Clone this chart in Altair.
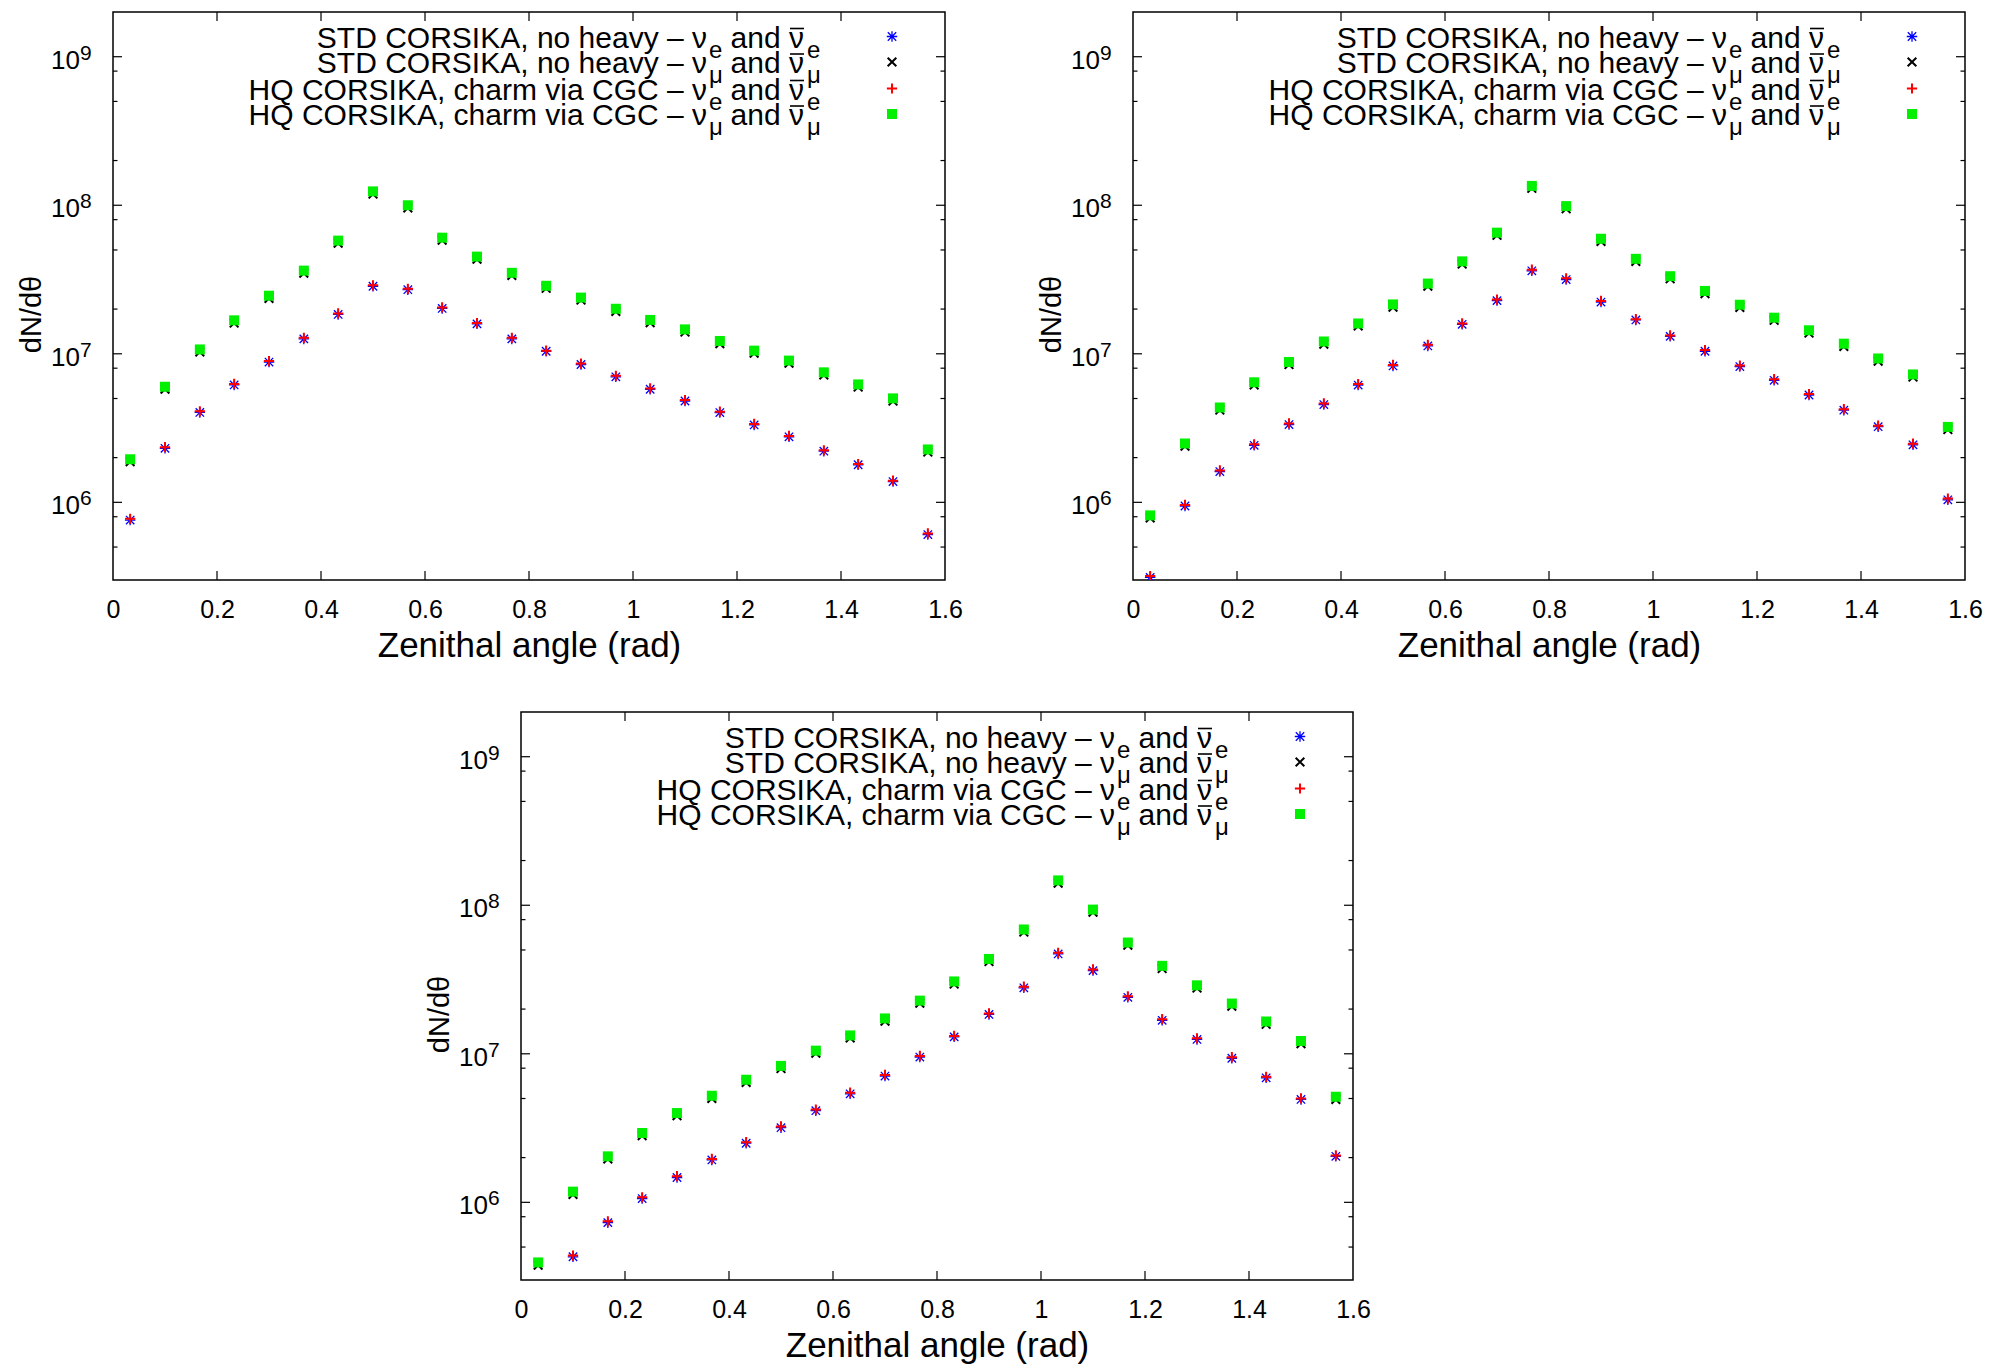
import altair as alt
import pandas as pd

FONT = "Liberation Sans"

# ---------------- data ----------------
theta = [0.033, 0.1, 0.167, 0.233, 0.3, 0.367, 0.433, 0.5, 0.567, 0.633, 0.7, 0.767,
         0.833, 0.9, 0.967, 1.033, 1.1, 1.167, 1.233, 1.3, 1.367, 1.433, 1.5, 1.567]

# panel 1 (top left)
p1_std_nue = [7.6e5, 2.31e6, 4.03e6, 6.17e6, 8.80e6, 1.26e7, 1.84e7, 2.85e7, 2.70e7, 2.02e7, 1.59e7, 1.26e7,
              1.04e7, 8.47e6, 7.0e6, 5.77e6, 4.81e6, 4.02e6, 3.32e6, 2.76e6, 2.21e6, 1.79e6, 1.38e6, 6.07e5]
p1_std_numu = [1.88e6, 5.78e6, 1.03e7, 1.61e7, 2.36e7, 3.49e7, 5.55e7, 1.19e8, 0.96e8, 5.82e7, 4.33e7, 3.37e7,
               2.76e7, 2.30e7, 1.93e7, 1.62e7, 1.40e7, 1.17e7, 1.01e7, 8.65e6, 7.2e6, 5.97e6, 4.81e6, 2.18e6]
p1_hq_nue = [7.74e5, 2.35e6, 4.10e6, 6.27e6, 8.93e6, 1.28e7, 1.87e7, 2.89e7, 2.74e7, 2.05e7, 1.61e7, 1.28e7,
             1.05e7, 8.59e6, 7.11e6, 5.85e6, 4.88e6, 4.08e6, 3.37e6, 2.80e6, 2.24e6, 1.81e6, 1.40e6, 6.17e5]
p1_hq_numu = [1.95e6, 6.0e6, 1.07e7, 1.68e7, 2.46e7, 3.63e7, 5.78e7, 1.24e8, 1.0e8, 6.05e7, 4.51e7, 3.51e7,
              2.87e7, 2.39e7, 2.01e7, 1.69e7, 1.46e7, 1.22e7, 1.05e7, 9.0e6, 7.5e6, 6.22e6, 5.01e6, 2.27e6]

# panel 2 (top right)
p2_std_nue = [3.12e5, 9.45e5, 1.61e6, 2.42e6, 3.34e6, 4.55e6, 6.16e6, 8.28e6, 1.13e7, 1.58e7, 2.28e7, 3.62e7,
              3.16e7, 2.23e7, 1.69e7, 1.31e7, 1.04e7, 8.2e6, 6.63e6, 5.28e6, 4.17e6, 3.23e6, 2.44e6, 1.04e6]
p2_std_numu = [7.85e5, 2.39e6, 4.18e6, 6.17e6, 8.46e6, 1.16e7, 1.54e7, 2.06e7, 2.85e7, 4.02e7, 6.28e7, 1.30e8,
               9.47e7, 5.71e7, 4.19e7, 3.20e7, 2.54e7, 2.05e7, 1.68e7, 1.38e7, 1.12e7, 8.93e6, 6.97e6, 3.09e6]
p2_hq_nue = [3.19e5, 9.6e5, 1.64e6, 2.46e6, 3.40e6, 4.63e6, 6.26e6, 8.42e6, 1.15e7, 1.60e7, 2.32e7, 3.68e7,
             3.22e7, 2.27e7, 1.71e7, 1.33e7, 1.06e7, 8.34e6, 6.74e6, 5.36e6, 4.24e6, 3.28e6, 2.48e6, 1.06e6]
p2_hq_numu = [8.17e5, 2.49e6, 4.35e6, 6.43e6, 8.81e6, 1.21e7, 1.60e7, 2.15e7, 2.97e7, 4.19e7, 6.54e7, 1.35e8,
              9.87e7, 5.95e7, 4.36e7, 3.33e7, 2.65e7, 2.14e7, 1.75e7, 1.44e7, 1.17e7, 9.3e6, 7.26e6, 3.22e6]

# panel 3 (bottom)
p3_std_nue = [1.42e5, 4.3e5, 7.3e5, 1.06e6, 1.47e6, 1.93e6, 2.5e6, 3.18e6, 4.14e6, 5.38e6, 7.08e6, 9.5e6,
              1.30e7, 1.84e7, 2.78e7, 4.7e7, 3.63e7, 2.4e7, 1.68e7, 1.25e7, 9.33e6, 6.89e6, 4.93e6, 2.04e6]
p3_std_numu = [3.78e5, 1.13e6, 1.96e6, 2.81e6, 3.83e6, 5.01e6, 6.42e6, 7.96e6, 1.01e7, 1.28e7, 1.66e7, 2.19e7,
               2.95e7, 4.18e7, 6.60e7, 1.41e8, 8.98e7, 5.39e7, 3.75e7, 2.77e7, 2.09e7, 1.58e7, 1.17e7, 4.93e6]
p3_hq_nue = [1.45e5, 4.38e5, 7.45e5, 1.08e6, 1.50e6, 1.96e6, 2.54e6, 3.24e6, 4.21e6, 5.47e6, 7.20e6, 9.67e6,
             1.32e7, 1.87e7, 2.83e7, 4.78e7, 3.70e7, 2.44e7, 1.71e7, 1.27e7, 9.48e6, 7.0e6, 5.01e6, 2.07e6]
p3_hq_numu = [3.94e5, 1.18e6, 2.04e6, 2.93e6, 3.99e6, 5.22e6, 6.69e6, 8.29e6, 1.05e7, 1.33e7, 1.73e7, 2.28e7,
              3.07e7, 4.35e7, 6.87e7, 1.47e8, 9.35e7, 5.61e7, 3.91e7, 2.89e7, 2.18e7, 1.65e7, 1.22e7, 5.14e6]

series_keys = ["std_nue", "std_numu", "hq_nue", "hq_numu"]
legend_main = ["STD CORSIKA, no heavy – ν", "STD CORSIKA, no heavy – ν",
               "HQ CORSIKA, charm via CGC – ν", "HQ CORSIKA, charm via CGC – ν"]
legend_sub = ["e", "μ", "e", "μ"]
legend_mid = ["and ν", "and ν", "and ν", "and ν"]

x_ticks = [0, 0.2, 0.4, 0.6, 0.8, 1, 1.2, 1.4, 1.6]
x_inner_ticks = [0.2, 0.4, 0.6, 0.8, 1, 1.2, 1.4]
y_major = [1e6, 1e7, 1e8, 1e9]
y_label_base = ["10", "10", "10", "10"]
y_label_exp = ["6", "7", "8", "9"]
y_minor = [5e5, 8e5, 2e6, 5e6, 8e6, 2e7, 5e7, 8e7, 2e8, 5e8, 8e8]

panels = {
    "p1": [p1_std_nue, p1_std_numu, p1_hq_nue, p1_hq_numu],
    "p2": [p2_std_nue, p2_std_numu, p2_hq_nue, p2_hq_numu],
    "p3": [p3_std_nue, p3_std_numu, p3_hq_nue, p3_hq_numu],
}

rows = []
for pk, lists in panels.items():
    for sk, vals in zip(series_keys, lists):
        for t, v in zip(theta, vals):
            rows.append({"panel": pk, "series": sk, "theta": t, "val": v})
df = pd.DataFrame(rows)

legend_df = pd.DataFrame({"row": [0, 1, 2, 3], "series": series_keys, "main": legend_main,
                          "sub": legend_sub, "mid": legend_mid})
ymaj_df = pd.DataFrame({"v": y_major, "base": y_label_base, "exp": y_label_exp})
ymin_df = pd.DataFrame({"v": y_minor})
xt_df = pd.DataFrame({"v": x_inner_ticks})

# ---------------- styling ----------------
W, H = 832, 568
ASTER = "M-1,0L1,0M0,-1L0,1M-0.8,-0.8L0.8,0.8M-0.8,0.8L0.8,-0.8"
XCROSS = "M-1,-1L1,1M-1,1L1,-1"
PLUS = "M-1,0L1,0M0,-1L0,1"
styles = {
    "std_nue": dict(shape=ASTER, filled=False, color="#0000ff", size=110, strokeWidth=1.3),
    "std_numu": dict(shape=XCROSS, filled=False, color="#000000", size=75, strokeWidth=2),
    "hq_nue": dict(shape=PLUS, filled=False, color="#ff0000", size=105, strokeWidth=2),
    "hq_numu": dict(shape="square", filled=True, color="#00f000", size=100, strokeWidth=0),
}

xscale = alt.Scale(domain=[0, 1.6], nice=False, zero=False)
yscale = alt.Scale(type="log", domain=[3e5, 2e9], nice=False)

xaxis = alt.Axis(values=x_ticks, format="~g", title="Zenithal angle (rad)", ticks=False, tickSize=0,
                 domain=False, grid=False, labelFontSize=25, labelPadding=17, labelFlush=False,
                 titleFontSize=35, titleX=416, titleY=48, titleAlign="center", titleBaseline="top")
yaxis = alt.Axis(values=y_major, labels=False, title="dN/dθ", ticks=False, tickSize=0,
                 domain=False, grid=False,
                 titleFontSize=29, titleAngle=270, titleX=-73, titleY=302,
                 titleAlign="center", titleBaseline="alphabetic")


def X(field):
    return alt.X(f"{field}:Q", scale=xscale, axis=xaxis)


def Y(field):
    return alt.Y(f"{field}:Q", scale=yscale, axis=yaxis)


LEG_BASE = [35.5, 61, 87.5, 113]


def panel(pk):
    layers = []
    base = alt.Chart(df).transform_filter(alt.datum.panel == pk)
    for sk in series_keys:
        st = styles[sk]
        layers.append(
            base.transform_filter(alt.datum.series == sk)
            .mark_point(opacity=1, clip=True, **st)
            .encode(x=X("theta"), y=Y("val"))
        )
    # inward ticks (gnuplot style)
    tick_style = dict(color="black", strokeWidth=1.2)
    layers.append(alt.Chart(ymaj_df).mark_rule(**tick_style).encode(
        y=Y("v"), x=alt.value(0), x2=alt.value(9)))
    layers.append(alt.Chart(ymaj_df).mark_rule(**tick_style).encode(
        y=Y("v"), x=alt.value(W - 9), x2=alt.value(W)))
    layers.append(alt.Chart(ymin_df).mark_rule(**tick_style).encode(
        y=Y("v"), x=alt.value(0), x2=alt.value(4.5)))
    layers.append(alt.Chart(ymin_df).mark_rule(**tick_style).encode(
        y=Y("v"), x=alt.value(W - 4.5), x2=alt.value(W)))
    layers.append(alt.Chart(xt_df).mark_rule(**tick_style).encode(
        x=X("v"), y=alt.value(H), y2=alt.value(H - 9)))
    layers.append(alt.Chart(xt_df).mark_rule(**tick_style).encode(
        x=X("v"), y=alt.value(0), y2=alt.value(9)))
    # y tick labels 10^n with real superscripts
    layers.append(alt.Chart(ymaj_df).mark_text(
        align="right", baseline="alphabetic", fontSize=26, dy=12, font=FONT, color="black"
    ).encode(y=Y("v"), x=alt.value(-33), text="base:N"))
    layers.append(alt.Chart(ymaj_df).mark_text(
        align="left", baseline="alphabetic", fontSize=21, dy=3, font=FONT, color="black"
    ).encode(y=Y("v"), x=alt.value(-33), text="exp:N"))
    # legend (text right-aligned, symbol on the right, gnuplot style)
    for r in range(4):
        yb = LEG_BASE[r]
        lb = alt.Chart(legend_df).transform_filter(alt.datum.row == r)
        txt = dict(font=FONT, color="black", baseline="alphabetic")
        layers.append(lb.mark_text(align="right", fontSize=30, **txt).encode(
            x=alt.value(594), y=alt.value(yb), text="main:N"))
        layers.append(lb.mark_text(align="left", fontSize=24, **txt).encode(
            x=alt.value(596), y=alt.value(yb + 10), text="sub:N"))
        layers.append(lb.mark_text(align="right", fontSize=30, **txt).encode(
            x=alt.value(691), y=alt.value(yb), text="mid:N"))
        # overbar of the anti-neutrino symbol
        layers.append(lb.mark_rule(color="black", strokeWidth=1.6).encode(
            x=alt.value(677), x2=alt.value(691), y=alt.value(yb - 19)))
        layers.append(lb.mark_text(align="left", fontSize=24, **txt).encode(
            x=alt.value(694), y=alt.value(yb + 10), text="sub:N"))
        st = styles[series_keys[r]]
        layers.append(lb.mark_point(opacity=1, **st).encode(
            x=alt.value(779), y=alt.value(yb - 11)))
    return alt.layer(*layers).properties(width=W, height=H)


spacer = alt.Chart(pd.DataFrame({"s": [0]})).mark_point(opacity=0).encode(
    x=alt.X("s:Q", axis=None), y=alt.Y("s:Q", axis=None)
).properties(width=220, height=H, view=alt.ViewBackground(stroke="transparent"))

top = alt.hconcat(panel("p1"), panel("p2"), spacing=188, bounds="flush")
bottom = alt.hconcat(spacer, panel("p3"), spacing=188, bounds="flush")

# nested flush rows report no height, so the row gap includes the top row's plot height
chart = alt.vconcat(top, bottom, spacing=H + 132, bounds="flush").configure(
    padding={"left": 16, "top": 10, "right": 5, "bottom": 5},
    background="white",
    font=FONT,
).configure_view(
    stroke="black", strokeWidth=1.5
).configure_axis(
    labelFont=FONT, titleFont=FONT, labelColor="black", titleColor="black",
    titleFontWeight="normal"
)

chart.save("out.html", embed_options={"renderer": "svg", "actions": False})
